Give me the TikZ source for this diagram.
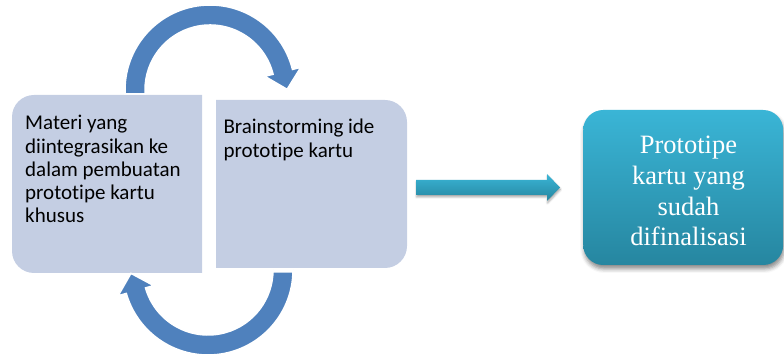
\documentclass[tikz,border=0pt]{standalone}
\usepackage{fontspec}
\setmainfont{Carlito}[Ligatures=NoCommon]
\newfontfamily\serifface{Liberation Serif}
\usetikzlibrary{calc,shadows.blur}

\definecolor{boxfill}{RGB}{196,206,227}
\definecolor{cycleblue}{RGB}{79,129,189}
\definecolor{tealtop}{RGB}{58,181,214}
\definecolor{tealbot}{RGB}{38,134,160}

\tikzset{
  stagebox/.style={fill=boxfill},
  cyclearrow/.style={fill=cycleblue, draw=white, line width=1.5pt, line join=miter},
  stagetext/.style={anchor=base west, align=left, inner sep=0pt,
    font=\fontsize{21}{23.3}\selectfont, text=black},
  resulttext/.style={anchor=base, align=center, inner sep=0pt,
    font=\serifface\fontsize{26.5}{30.6}\selectfont, text=white},
}

\begin{document}
\begin{tikzpicture}[x=1pt,y=1pt]
\useasboundingbox (0,0) rectangle (784,356);

% two stage panels
\path[stagebox] (202,83) -- (34,83) arc[start angle=270,end angle=180,radius=22]
  -- (12,239) arc[start angle=180,end angle=90,radius=22] -- (202,261) -- cycle;
\path[stagebox] (216,88) -- (385,88) arc[start angle=-90,end angle=0,radius=22]
  -- (407,234) arc[start angle=0,end angle=90,radius=22] -- (216,256) -- cycle;

% circular arrows linking the two stages
\coordinate (ctop) at (210,266);
\coordinate (cbot) at (208,86);
\path[cyclearrow] ($(ctop)+(-85,-4)$) -- ($(ctop)+(180:85)$)
  arc[start angle=180,end angle=14,radius=85]
  -- ($(ctop)+(14:93.5)$) -- ($(ctop)+(14:75)+(-76:18)$) -- ($(ctop)+(14:56.5)$)
  -- ($(ctop)+(14:65)$) arc[start angle=14,end angle=180,radius=65]
  -- ($(ctop)+(-65,-4)$) -- cycle;
\path[cyclearrow] ($(cbot)+(85,-2)$) -- ($(cbot)+(0:85)$)
  arc[start angle=0,end angle=-164,radius=85]
  -- ($(cbot)+(-164:93.5)$) -- ($(cbot)+(-164:75)+(106:18)$) -- ($(cbot)+(-164:56.5)$)
  -- ($(cbot)+(-164:65)$) arc[start angle=-164,end angle=0,radius=65]
  -- ($(cbot)+(65,-2)$) -- cycle;

% stage texts (anchored on the baseline of their last line)
\node[stagetext] (materi) at (25,133)
  {Materi yang\\diintegrasikan ke\\dalam pembuatan\\prototipe kartu\\khusus};
\node[stagetext] (brain) at (223.3,198.7) {Brainstorming ide\\prototipe kartu};

% result box
\node[rounded corners=20pt, minimum width=200pt, minimum height=155pt,
      top color=tealtop, bottom color=tealbot, inner sep=0pt,
      blur shadow={shadow xshift=1pt, shadow yshift=-4pt, shadow blur radius=4pt, shadow opacity=45}]
  (result) at (683.2,168.5) {};
\node[resulttext] (resulttxt) at (688.5,110.3)
  {Prototipe\\kartu yang\\sudah\\difinalisasi};

% arrow towards the result
\coordinate (aw) at (416,168.5);
\coordinate (ae) at (560,168.5);
\shade[top color=tealtop, bottom color=tealbot,
       blur shadow={shadow xshift=0.5pt, shadow yshift=-2pt, shadow blur radius=2pt, shadow opacity=35}]
  ($(aw)+(0,7.5)$) -- ($(ae)+(-13,7.5)$) -- ($(ae)+(-13,13.5)$) -- (ae)
  -- ($(ae)+(-13,-13.5)$) -- ($(ae)+(-13,-7.5)$) -- ($(aw)+(0,-7.5)$) -- cycle;
\end{tikzpicture}
\end{document}
